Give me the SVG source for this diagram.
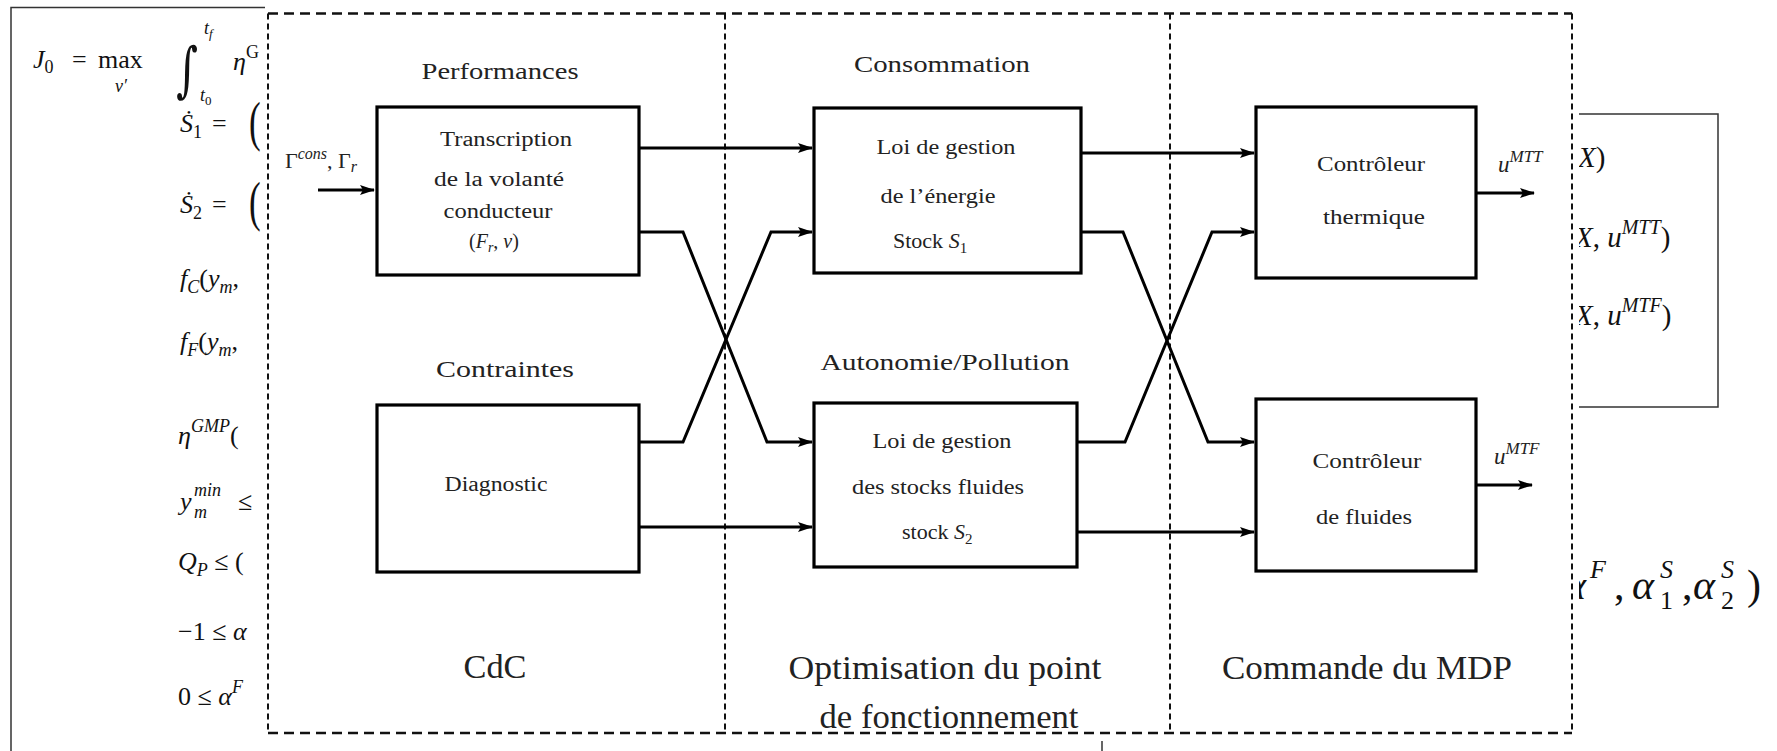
<svg xmlns="http://www.w3.org/2000/svg" width="1777" height="751" viewBox="0 0 1777 751">
<style>
text{font-family:"Liberation Serif","DejaVu Serif",serif}
.eq{font-size:26px;fill:#111}
.i{font-style:italic}
.sm{font-size:18px}
.t{fill:#222}
.hd{font-size:23px}
.bx{font-size:20px}
.bg{font-size:33px}
.box{fill:none;stroke:#000;stroke-width:3.2}
.ln{fill:none;stroke:#000;stroke-width:3;stroke-linejoin:miter}
.thin{fill:none;stroke:#333;stroke-width:1.5}
.dh{fill:none;stroke:#111;stroke-width:2.6;stroke-dasharray:10 6}
.dv{fill:none;stroke:#111;stroke-width:2;stroke-dasharray:6 4}
</style>
<defs>
<marker id="ah" markerWidth="15" markerHeight="12" refX="14" refY="6" orient="auto" markerUnits="userSpaceOnUse">
<path d="M0,1 L15,6 L0,11 L3,6 z" fill="#000"/>
</marker>
</defs>
<rect width="1777" height="751" fill="#fff"/>

<g id="background-equations">
<path class="thin" d="M11,751 V7.5 H266"/>
<path class="thin" d="M1575,114 H1718 V407 H1575"/>
<path class="thin" d="M1102,741 V751"/>
<text class="eq" x="33" y="68"><tspan class="i">J</tspan><tspan class="sm" dy="5">0</tspan><tspan x="72" y="68">=</tspan><tspan x="98" y="68">max</tspan></text>
<text class="eq i sm" x="115" y="92">v′</text>
<g transform="translate(176,90) scale(0.7,1)"><text x="0" y="0" style="font-family:'DejaVu Serif',serif;font-size:60px;fill:#111">∫</text></g>
<text class="eq i sm" x="204" y="34">t<tspan style="font-size:13px" dy="4">f</tspan></text>
<text class="eq i sm" x="200" y="101">t<tspan style="font-size:13px;font-style:normal" dy="4">0</tspan></text>
<text class="eq i" x="233" y="70">η<tspan class="sm" dy="-12" font-style="normal">G</tspan></text>
<text class="eq" x="180" y="132"><tspan class="i">Ṡ</tspan><tspan class="sm" dy="6">1</tspan><tspan x="212" y="132">=</tspan></text>
<g transform="translate(249,140) scale(0.65,1)"><text class="eq" x="0" y="0" style="font-size:54px">(</text></g>
<text class="eq" x="180" y="213"><tspan class="i">Ṡ</tspan><tspan class="sm" dy="6">2</tspan><tspan x="212" y="213">=</tspan></text>
<g transform="translate(249,220) scale(0.65,1)"><text class="eq" x="0" y="0" style="font-size:54px">(</text></g>
<text class="eq" x="180" y="287"><tspan class="i">f</tspan><tspan class="i sm" dy="6">C</tspan><tspan dy="-6">(</tspan><tspan class="i">y</tspan><tspan class="i sm" dy="6">m</tspan><tspan dy="-6">,</tspan></text>
<text class="eq" x="180" y="350"><tspan class="i">f</tspan><tspan class="i sm" dy="6">F</tspan><tspan dy="-6">(</tspan><tspan class="i">y</tspan><tspan class="i sm" dy="6">m</tspan><tspan dy="-6">,</tspan></text>
<text class="eq" x="178" y="444"><tspan class="i">η</tspan><tspan class="i sm" dy="-12">GMP</tspan><tspan dy="12">(</tspan></text>
<text class="eq" x="180" y="510"><tspan class="i">y</tspan><tspan class="i sm" x="194" y="496">min</tspan><tspan class="i sm" x="194" y="518">m</tspan><tspan x="238" y="510">≤</tspan></text>
<text class="eq" x="178" y="570"><tspan class="i">Q</tspan><tspan class="i sm" dy="6">P</tspan><tspan dy="-6"> ≤ (</tspan></text>
<text class="eq" x="178" y="640">−1 ≤ <tspan class="i">α</tspan></text>
<text class="eq" x="178" y="705">0 ≤ <tspan class="i">α</tspan><tspan class="i sm" dy="-12">F</tspan></text>
<text class="eq" x="1578" y="167" style="font-size:29px"><tspan class="i">X</tspan>)</text>
<text class="eq" x="1575" y="247" style="font-size:29px"><tspan class="i">X</tspan>, <tspan class="i">u</tspan><tspan class="i" style="font-size:20px" dy="-13">MTT</tspan><tspan dy="13">)</tspan></text>
<text class="eq" x="1575" y="325" style="font-size:29px"><tspan class="i">X</tspan>, <tspan class="i">u</tspan><tspan class="i" style="font-size:20px" dy="-13">MTF</tspan><tspan dy="13">)</tspan></text>
<text class="eq" x="1564" y="599" style="font-size:42px"><tspan class="i">α</tspan><tspan class="i" style="font-size:26px" x="1590" y="578">F</tspan><tspan x="1614" y="599">,</tspan><tspan class="i" x="1632" y="599">α</tspan><tspan class="i" style="font-size:26px" x="1660" y="578">S</tspan><tspan x="1682" y="599">,</tspan><tspan class="i" x="1693" y="599">α</tspan><tspan class="i" style="font-size:26px" x="1721" y="578">S</tspan><tspan x="1747" y="599">)</tspan></text>
<text class="eq" x="1660" y="609" style="font-size:26px">1</text>
<text class="eq" x="1721" y="609" style="font-size:26px">2</text>
</g>

<rect id="diagram-paper" x="265" y="0" width="1314" height="738" fill="#fff"/>

<g id="frame">
<path class="dh" d="M268,13.5 H1572"/>
<path class="dh" d="M268,733 H1572"/>
<path class="dv" d="M268,13.5 V733"/>
<path class="dv" d="M1572,13.5 V733"/>
<path class="dv" d="M725,13.5 V733"/>
<path class="dv" d="M1170,13.5 V733"/>
<text class="t bg" x="495" y="678" text-anchor="middle" textLength="63" lengthAdjust="spacingAndGlyphs">CdC</text>
<text class="t bg" x="945" y="679" text-anchor="middle" textLength="313" lengthAdjust="spacingAndGlyphs">Optimisation du point</text>
<text class="t bg" x="949" y="728" text-anchor="middle" textLength="259" lengthAdjust="spacingAndGlyphs">de fonctionnement</text>
<text class="t bg" x="1367" y="679" text-anchor="middle" textLength="290" lengthAdjust="spacingAndGlyphs">Commande du MDP</text>
<text class="t hd" x="500" y="79" text-anchor="middle" textLength="157" lengthAdjust="spacingAndGlyphs">Performances</text>
<text class="t hd" x="942" y="72" text-anchor="middle" textLength="176" lengthAdjust="spacingAndGlyphs">Consommation</text>
<text class="t hd" x="505" y="377" text-anchor="middle" textLength="138" lengthAdjust="spacingAndGlyphs">Contraintes</text>
<text class="t hd" x="945" y="370" text-anchor="middle" textLength="249" lengthAdjust="spacingAndGlyphs">Autonomie/Pollution</text>
</g>

<g id="node-transcription">
<rect class="box" x="377" y="107" width="262" height="168"/>
<text class="t bx" x="506" y="146" text-anchor="middle" textLength="132" lengthAdjust="spacingAndGlyphs">Transcription</text>
<text class="t bx" x="499" y="186" text-anchor="middle" textLength="130" lengthAdjust="spacingAndGlyphs">de la volanté</text>
<text class="t bx" x="498" y="218" text-anchor="middle" textLength="109" lengthAdjust="spacingAndGlyphs">conducteur</text>
<text class="t bx" x="469" y="248">(<tspan class="i">F</tspan><tspan class="i" style="font-size:14px" dy="4">r</tspan><tspan dy="-4">, </tspan><tspan class="i">v</tspan>)</text>
</g>

<g id="node-diagnostic">
<rect class="box" x="377" y="405" width="262" height="167"/>
<text class="t bx" x="496" y="491" text-anchor="middle" textLength="103" lengthAdjust="spacingAndGlyphs">Diagnostic</text>
</g>

<g id="node-loi-energie">
<rect class="box" x="814" y="108" width="267" height="165"/>
<text class="t bx" x="946" y="154" text-anchor="middle" textLength="139" lengthAdjust="spacingAndGlyphs">Loi de gestion</text>
<text class="t bx" x="938" y="203" text-anchor="middle" textLength="115" lengthAdjust="spacingAndGlyphs">de l’énergie</text>
<text class="t bx" x="893" y="248" style="font-size:22px">Stock <tspan class="i">S</tspan><tspan style="font-size:15px" dy="5">1</tspan></text>
</g>

<g id="node-loi-fluides">
<rect class="box" x="814" y="403" width="263" height="164"/>
<text class="t bx" x="942" y="448" text-anchor="middle" textLength="139" lengthAdjust="spacingAndGlyphs">Loi de gestion</text>
<text class="t bx" x="938" y="494" text-anchor="middle" textLength="172" lengthAdjust="spacingAndGlyphs">des stocks fluides</text>
<text class="t bx" x="902" y="539" style="font-size:22px">stock <tspan class="i">S</tspan><tspan style="font-size:15px" dy="5">2</tspan></text>
</g>

<g id="node-controleur-thermique">
<rect class="box" x="1256" y="107" width="220" height="171"/>
<text class="t bx" x="1371" y="171" text-anchor="middle" textLength="108" lengthAdjust="spacingAndGlyphs">Contrôleur</text>
<text class="t bx" x="1374" y="224" text-anchor="middle" textLength="102" lengthAdjust="spacingAndGlyphs">thermique</text>
</g>

<g id="node-controleur-fluides">
<rect class="box" x="1256" y="399" width="220" height="172"/>
<text class="t bx" x="1367" y="468" text-anchor="middle" textLength="109" lengthAdjust="spacingAndGlyphs">Contrôleur</text>
<text class="t bx" x="1364" y="524" text-anchor="middle" textLength="96" lengthAdjust="spacingAndGlyphs">de fluides</text>
</g>

<g id="connectors">
<path class="ln" d="M318,190 H374" marker-end="url(#ah)"/>
<path class="ln" d="M639,148 H812" marker-end="url(#ah)"/>
<path class="ln" d="M639,232 H683 L767,442 H812" marker-end="url(#ah)"/>
<path class="ln" d="M639,442 H683 L771,232 H812" marker-end="url(#ah)"/>
<path class="ln" d="M639,527 H812" marker-end="url(#ah)"/>
<path class="ln" d="M1081,153 H1254" marker-end="url(#ah)"/>
<path class="ln" d="M1081,232 H1123 L1208,442 H1254" marker-end="url(#ah)"/>
<path class="ln" d="M1077,442 H1125 L1212,232 H1254" marker-end="url(#ah)"/>
<path class="ln" d="M1077,532 H1254" marker-end="url(#ah)"/>
<path class="ln" d="M1476,193 H1534" marker-end="url(#ah)"/>
<path class="ln" d="M1476,485 H1532" marker-end="url(#ah)"/>
<text class="t" x="285" y="168" style="font-size:22px">Γ<tspan class="i" style="font-size:16px" dy="-9">cons</tspan><tspan dy="9">, Γ</tspan><tspan class="i" style="font-size:16px" dy="4">r</tspan></text>
<text class="t" x="1498" y="172" style="font-size:23px"><tspan class="i">u</tspan><tspan class="i" style="font-size:17px" dy="-10">MTT</tspan></text>
<text class="t" x="1494" y="464" style="font-size:23px"><tspan class="i">u</tspan><tspan class="i" style="font-size:17px" dy="-10">MTF</tspan></text>
</g>
</svg>
